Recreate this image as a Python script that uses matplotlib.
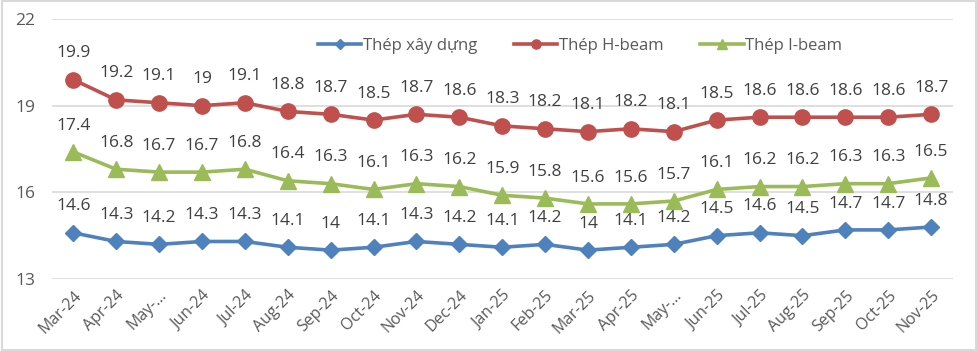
import matplotlib
matplotlib.use("Agg")
import matplotlib.pyplot as plt
from matplotlib.patches import Rectangle

plt.rcParams["font.family"] = ["Open Sans", "DejaVu Sans"]

months = ["Mar-24", "Apr-24", "May-...", "Jun-24", "Jul-24", "Aug-24", "Sep-24",
          "Oct-24", "Nov-24", "Dec-24", "Jan-25", "Feb-25", "Mar-25", "Apr-25",
          "May-...", "Jun-25", "Jul-25", "Aug-25", "Sep-25", "Oct-25", "Nov-25"]

thep_xd = [14.6, 14.3, 14.2, 14.3, 14.3, 14.1, 14.0, 14.1, 14.3, 14.2, 14.1,
           14.2, 14.0, 14.1, 14.2, 14.5, 14.6, 14.5, 14.7, 14.7, 14.8]
thep_h = [19.9, 19.2, 19.1, 19.0, 19.1, 18.8, 18.7, 18.5, 18.7, 18.6, 18.3,
          18.2, 18.1, 18.2, 18.1, 18.5, 18.6, 18.6, 18.6, 18.6, 18.7]
thep_i = [17.4, 16.8, 16.7, 16.7, 16.8, 16.4, 16.3, 16.1, 16.3, 16.2, 15.9,
          15.8, 15.6, 15.6, 15.7, 16.1, 16.2, 16.2, 16.3, 16.3, 16.5]

series = [
    ("Thép xây dựng", thep_xd, "#4f81bd", "D", 8),
    ("Thép H-beam", thep_h, "#c0504d", "o", 11),
    ("Thép I-beam", thep_i, "#9bbb59", "^", 11),
]

txt = "#404040"

fig = plt.figure(figsize=(9.78, 3.51), dpi=100)
ax = fig.add_axes([0.053, 0.205, 0.921, 0.741])

x = list(range(len(months)))
for name, vals, col, mk, ms in series:
    ax.plot(x, vals, color=col, lw=2.6, marker=mk, markersize=ms,
            label=name, zorder=3)
    for xi, v in zip(x, vals):
        ax.annotate(f"{v:g}", (xi, v), xytext=(0, 19), textcoords="offset points",
                    ha="center", va="center", fontsize=12.5, color=txt)

ax.set_xlim(-0.5, len(months) - 0.5)
ax.set_ylim(13, 22)
ax.set_yticks([13, 16, 19, 22])
ax.set_xticks(x)
ax.set_xticklabels(months, rotation=45, ha="right", rotation_mode="anchor")
ax.tick_params(axis="both", length=0, labelsize=11.5, colors="#595959", pad=6)
ax.tick_params(axis="y", labelsize=12.5, pad=12)
ax.grid(axis="y", color="#d9d9d9", lw=1.2)
ax.set_axisbelow(True)
for s in ax.spines.values():
    s.set_visible(False)

fig.legend(loc="center", bbox_to_anchor=(580 / 978, 1 - 46 / 351), ncol=3,
           frameon=False, fontsize=12, labelcolor="#595959", handlelength=2.6,
           handletextpad=0.1, columnspacing=2.2, markerscale=0.6)

fig.patches.append(Rectangle((0.002, 0.003), 0.996, 0.994, transform=fig.transFigure,
                             fill=False, edgecolor="#d9d9d9", lw=1.5))

fig.savefig("out.png", dpi=100)
